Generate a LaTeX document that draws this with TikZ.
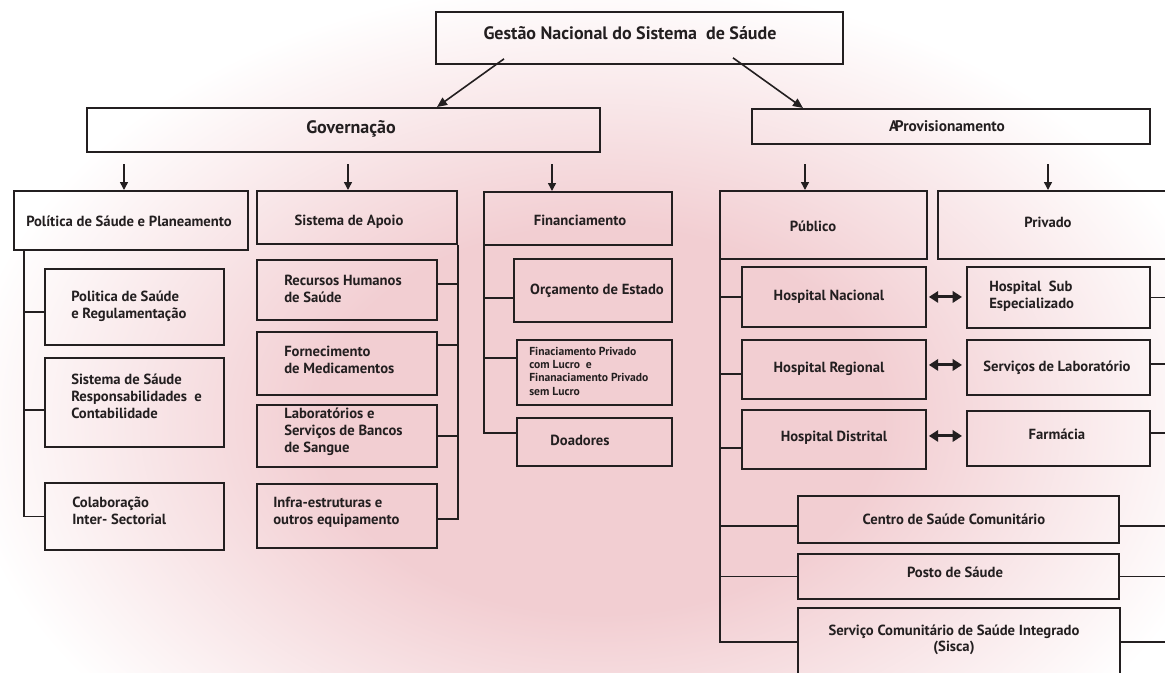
\documentclass[tikz,border=0pt]{standalone}
\usepackage{fontspec}
\setmainfont{PT Sans}
\usetikzlibrary{arrows.meta,calc}
\definecolor{bgpink}{RGB}{242,206,210}
\definecolor{ink}{RGB}{35,31,32}
\pgfdeclareradialshading{bgshade}{\pgfpoint{0bp}{0bp}}{color(0bp)=(bgpink); color(11bp)=(bgpink); color(25bp)=(white); color(50bp)=(white)}
\newcommand{\mybox}[5]{\node[box, minimum width={(#4-#2)*0.75pt}, minimum height={(#5-#3)*0.75pt}] (#1) at (#2,#3) {};}
\begin{document}
\begin{tikzpicture}[x=0.75pt,y=-0.75pt,
  box/.style={draw=ink, line width=1.4pt, rectangle, inner sep=0pt, anchor=north west},
  hd/.style={text=ink, inner sep=0pt, font=\bfseries\fontsize{11pt}{13pt}\selectfont},
  big/.style={text=ink, inner sep=0pt, font=\bfseries\fontsize{13.5pt}{15pt}\selectfont},
  sub/.style={text=ink, inner sep=0pt, align=left, anchor=west, font=\bfseries\fontsize{11pt}{12.75pt}\selectfont},
  subc/.style={text=ink, inner sep=0pt, align=center, font=\bfseries\fontsize{11pt}{12pt}\selectfont},
  tiny/.style={text=ink, inner sep=0pt, align=left, anchor=west, font=\bfseries\fontsize{8.7pt}{10pt}\selectfont},
  conn/.style={draw=ink, line width=1.3pt},
  arr/.style={draw=ink, line width=1.2pt, -{Triangle[length=7.5pt,width=6.5pt]}},
  darr/.style={draw=ink, line width=1.1pt, -{Triangle[length=6pt,width=6pt]}},
  dbl/.style={draw=ink, line width=2.3pt, {Triangle[length=7pt,width=8.5pt]}-{Triangle[length=7pt,width=8.5pt]}, shorten <=1.5pt, shorten >=3pt}
]
\useasboundingbox (0,0) rectangle (1165,672);
\begin{scope}
\clip (0,0) rectangle (1165,672);
\fill[white] (0,0) rectangle (1165,672);
\shade[shading=bgshade] (600,420) ellipse [x radius=640, y radius=440];

% boxes
\mybox{top}{435}{11}{842}{63}
\mybox{gov}{86}{107}{599}{151}
\mybox{apr}{751}{108}{1149}{143}
\mybox{pol}{13}{190}{247}{249}
\mybox{apo}{256}{190}{456}{243}
\mybox{fin}{483}{191}{671}{244}
\mybox{pub}{719}{190}{926}{258}
\mybox{pri}{937}{190}{1185}{258}
\mybox{p1}{44}{268}{223}{344}
\mybox{p2}{44}{357}{223}{446}
\mybox{p3}{44}{482}{223}{549}
\mybox{a1}{256}{259}{436}{319}
\mybox{a2}{256}{331}{436}{394}
\mybox{a3}{256}{404}{436}{466}
\mybox{a4}{256}{483}{436}{547}
\mybox{f1}{513}{258}{671}{321}
\mybox{f2}{516}{339}{671}{404}
\mybox{f3}{516}{417}{671}{465}
\mybox{h1}{741}{266}{925}{326}
\mybox{h2}{741}{339}{925}{398}
\mybox{h3}{741}{409}{925}{468}
\mybox{s1}{966}{266}{1149}{327}
\mybox{s2}{966}{339}{1149}{394}
\mybox{s3}{966}{410}{1149}{465}
\mybox{c1}{797}{495}{1118}{542}
\mybox{c2}{797}{553}{1118}{598}
\mybox{c3}{797}{607}{1119}{690}

% texts
\node[big] (ttop) at (630,33) {Gestão Nacional do Sistema\ \ de Sáude};
\node[big] (tgov) at (351,129) {Governação};
\node[hd, font=\bfseries\fontsize{11.5pt}{13pt}\selectfont] (tapr) at (947,126) {A\kern-0.22em Provisionamento};
\node[hd] (tpol) at (129,221) {Política de Sáude e Planeamento};
\node[hd] (tapo) at (349,222) {Sistema de Apoio};
\node[hd] (tfin) at (580,220) {Financiamento};
\node[hd] (tpub) at (813,226) {Público};
\node[hd] (tpri) at (1048,222) {Privado};

\node[sub] (tp1) at (71,306) {Politica de Saúde\\e Regulamentação};
\node[sub] (tp2) at (71,396) {Sistema de Sáude\\Responsabilidades\ \ e\\Contabilidade};
\node[sub] (tp3) at (72,511) {Colaboração\\Inter- Sectorial};
\node[sub] (ta1) at (284,289) {Recursos Humanos\\de Saúde};
\node[sub] (ta2) at (284,360) {Fornecimento\\de Medicamentos};
\node[sub] (ta3) at (284,432) {Laboratórios e\\Serviços de Bancos\\de Sangue};
\node[sub] (ta4) at (273,512) {Infra-estruturas e\\outros equipamento};
\node[subc] (tf1) at (597,291) {Orçamento de Estado};
\node[tiny] (tf2) at (529,371) {Finaciamento Privado\\com Lucro\ \ e\\Finanaciamento Privado\\sem Lucro};
\node[subc] (tf3) at (580,440) {Doadores};
\node[subc] (th1) at (829,297) {Hospital Nacional};
\node[subc] (th2) at (829,369) {Hospital Regional};
\node[subc] (th3) at (834,438) {Hospital Distrital};
\node[sub] (ts1) at (989,296) {Hospital\ \ Sub\\Especializado};
\node[subc] (ts2) at (1057,368) {Serviços de Laboratório};
\node[subc] (ts3) at (1057,434) {Farmácia};
\node[subc] (tc1) at (954,519) {Centro de Saúde Comunitário};
\node[subc] (tc2) at (955,572) {Posto de Sáude};
\node[subc] (tc3) at (954,640) {Serviço Comunitário de Saúde Integrado\\(Sisca)};

% main arrows
\draw[arr] ($(top.south west)+(69,-6)$) -- ($(gov.north west)+(351,0)$);
\draw[arr] ($(top.south west)+(298,-7)$) -- ($(apr.north west)+(52,0)$);
\draw[darr] ($(pol.north west)+(111,-26)$) -- ($(pol.north west)+(111,0)$);
\draw[darr] ($(apo.north west)+(92,-26)$) -- ($(apo.north west)+(92,0)$);
\draw[darr] ($(fin.north west)+(69,-27)$) -- ($(fin.north west)+(69,0)$);
\draw[darr] ($(pub.north west)+(86,-26)$) -- ($(pub.north west)+(86,0)$);
\draw[darr] ($(pri.north west)+(111,-26)$) -- ($(pri.north west)+(111,0)$);

% Politica tree
\coordinate (pl) at ($(pol.south west)+(11,0)$);
\coordinate (bp1) at ($(p1.west)+(0,5)$);
\coordinate (bp2) at ($(p2.west)+(0,7.5)$);
\draw[conn] (pl) |- (p3.west);
\draw[conn] (pl |- bp1) -- (bp1);
\draw[conn] (pl |- bp2) -- (bp2);

% Apoio tree
\coordinate (ar) at (apo.south east);
\coordinate (ba1) at ($(a1.east)+(0,-6)$);
\coordinate (ba2) at ($(a2.east)+(0,-18.5)$);
\coordinate (ba4) at ($(a4.east)+(0,3)$);
\draw[conn] (ar) |- (ba4);
\draw[conn] (ar |- ba1) -- (ba1);
\draw[conn] (ar |- ba2) -- (ba2);
\draw[conn] (ar |- a3.east) -- (a3.east);

% Financiamento tree
\coordinate (fl) at ($(fin.south west)+(1,0)$);
\coordinate (bf1) at ($(f1.west)+(0,7.5)$);
\coordinate (bf2) at ($(f2.west)+(0,-14.5)$);
\coordinate (bf3) at ($(f3.west)+(0,-9)$);
\draw[conn] (fl) |- (bf3);
\draw[conn] (fl |- bf1) -- (bf1);
\draw[conn] (fl |- bf2) -- (bf2);

% Publico tree
\coordinate (pt) at ($(pub.south west)+(1,0)$);
\coordinate (bh2) at ($(h2.west)+(0,4.5)$);
\coordinate (bh3) at ($(h3.west)+(0,8.5)$);
\coordinate (bc1) at ($(c1.west)+(0,6.5)$);
\coordinate (bc3) at ($(c3.north west)+(0,35)$);
\draw[conn] (pt) |- (bc3);
\draw[conn] (pt |- h1.west) -- (h1.west);
\draw[conn] (pt |- bh2) -- (bh2);
\draw[conn] (pt |- bh3) -- (bh3);
\draw[conn] (pt |- bc1) -- (bc1);
\draw[conn] (pt |- c2.west) -- (c2.west);

% right edge connectors
\coordinate (edge) at (1175,0);
\coordinate (bs2) at ($(s2.east)+(0,-3.5)$);
\coordinate (bs3) at ($(s3.east)+(0,-5.5)$);
\coordinate (bc1r) at ($(c1.east)+(0,6.5)$);
\coordinate (bc3r) at ($(c3.north east)+(0,35)$);
\draw[conn] (s1.east) -- (s1.east -| edge);
\draw[conn] (bs2) -- (bs2 -| edge);
\draw[conn] (bs3) -- (bs3 -| edge);
\draw[conn] (bc1r) -- (bc1r -| edge);
\draw[conn] (c2.east) -- (c2.east -| edge);
\draw[conn] (bc3r) -- (bc3r -| edge);

% double arrows
\coordinate (d1) at (h1.east);
\coordinate (d2) at ($(h2.east)+(0,-4.5)$);
\coordinate (d3) at ($(h3.east)+(0,-3.5)$);
\draw[dbl] (d1) -- (d1 -| s1.west);
\draw[dbl] (d2) -- (d2 -| s2.west);
\draw[dbl] (d3) -- (d3 -| s3.west);
\end{scope}
\end{tikzpicture}
\end{document}
